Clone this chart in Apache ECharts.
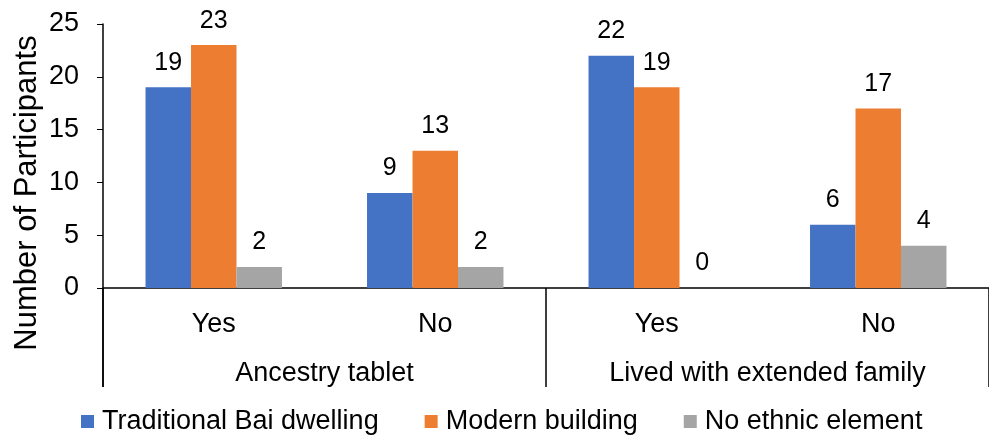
<!DOCTYPE html>
<html>
<head>
<meta charset="utf-8">
<script src="https://cdn.jsdelivr.net/npm/echarts@6/dist/echarts.min.js"></script>
<style>
  html, body { margin: 0; padding: 0; background: #fff; }
  #chart { width: 989px; height: 437px; }
</style>
</head>
<body>
<div id="chart"></div>
<script>
// categories + groups
const answers = ['Yes', 'No', 'Yes', 'No']
const groups = ['Ancestry tablet', 'Lived with extended family']

// series values
const traditional = [19, 9, 22, 6]
const modern = [23, 13, 19, 17]
const noEthnic = [2, 2, 0, 4]

const yTicks = [0, 5, 10, 15, 20, 25]

const font = 'Liberation Sans, Arial, sans-serif'

const chart = echarts.init(document.getElementById('chart'))

const labelOpt = {
  show: true,
  position: 'top',
  distance: 12,
  color: '#000',
  fontSize: 25,
  fontFamily: font
}

chart.setOption({
  animation: false,
  textStyle: { fontFamily: font },
  grid: { left: 103, top: 24, width: 896, height: 264, containLabel: false },
  legend: {
    bottom: -3,
    left: 76,
    itemWidth: 13,
    itemHeight: 13,
    itemGap: 46,
    icon: 'rect',
    textStyle: { fontSize: 27, color: '#000', fontFamily: font, padding: [0, 0, 0, 3] },
    data: ['Traditional Bai dwelling', 'Modern building', 'No ethnic element']
  },
  xAxis: [
    {
      type: 'category',
      data: answers,
      axisLine: { lineStyle: { color: '#000', width: 1.5 } },
      axisTick: { show: false },
      axisLabel: { fontSize: 27, color: '#000', margin: 23, fontFamily: font }
    },
    {
      type: 'category',
      data: groups,
      position: 'bottom',
      axisLine: { show: false },
      axisTick: { show: true, length: 99, lineStyle: { color: '#000', width: 1.5 } },
      axisLabel: { fontSize: 27, color: '#000', margin: 72, fontFamily: font }
    }
  ],
  yAxis: {
    type: 'value',
    min: yTicks[0],
    max: yTicks[yTicks.length - 1],
    interval: 5,
    splitLine: { show: false },
    axisLine: { show: true, lineStyle: { color: '#000', width: 1.5 } },
    axisTick: { show: true, length: 6, lineStyle: { color: '#000' } },
    axisLabel: { fontSize: 27, color: '#000', margin: 24, fontFamily: font }
  },
  graphic: [
    {
      type: 'text',
      x: 27,
      y: 193,
      rotation: Math.PI / 2,
      style: {
        text: 'Number of Participants',
        fontSize: 31,
        fontFamily: font,
        fill: '#000',
        align: 'center',
        verticalAlign: 'middle'
      }
    },
    {
      // y axis extends down past the category labels
      type: 'line',
      shape: { x1: 103, y1: 288, x2: 103, y2: 387 },
      style: { stroke: '#000', lineWidth: 1.5 }
    }
  ],
  series: [
    {
      name: 'Traditional Bai dwelling',
      type: 'bar',
      data: traditional,
      barGap: '0%',
      barCategoryGap: '38.4%',
      itemStyle: { color: '#4472C4' },
      label: labelOpt
    },
    {
      name: 'Modern building',
      type: 'bar',
      data: modern,
      itemStyle: { color: '#ED7D31' },
      label: labelOpt
    },
    {
      name: 'No ethnic element',
      type: 'bar',
      data: noEthnic,
      itemStyle: { color: '#A5A5A5' },
      label: labelOpt
    }
  ]
})
</script>
</body>
</html>
